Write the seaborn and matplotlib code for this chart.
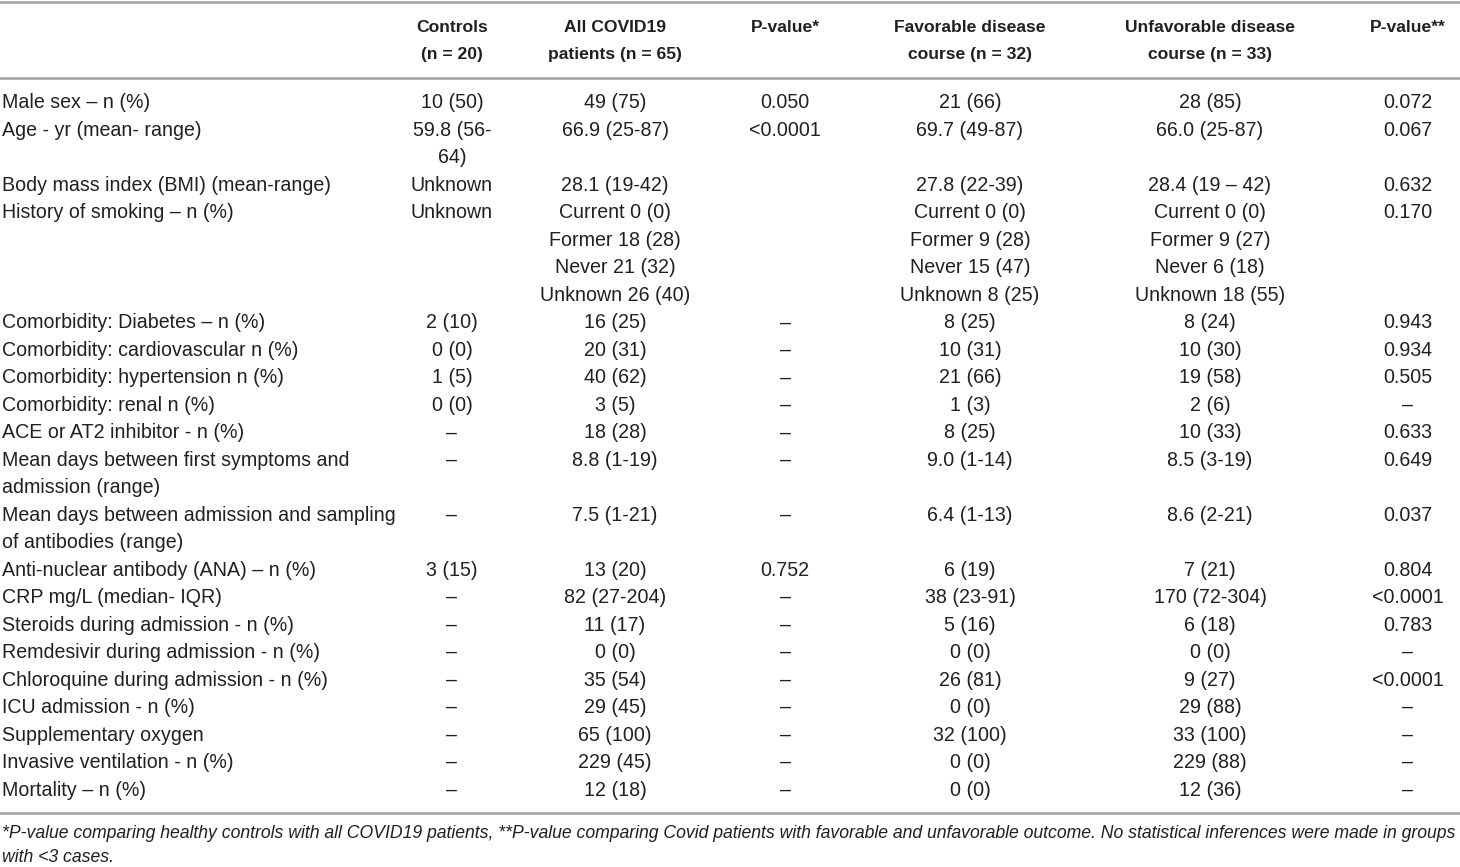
import matplotlib
matplotlib.use("Agg")
import matplotlib.pyplot as plt
import seaborn as sns

sns.set_style("white")
plt.rcParams['font.family'] = ['Liberation Sans Narrow', 'Liberation Sans', 'DejaVu Sans']

# cabeçalhos
headers = ["", "Controls\n(n = 20)", "All COVID19\npatients (n = 65)", "P-value*",
           "Favorable disease\ncourse (n = 32)", "Unfavorable disease\ncourse (n = 33)", "P-value**"]

labels = ["Male sex – n (%)", "Age - yr (mean- range)", "Body mass index (BMI) (mean-range)",
          "History of smoking – n (%)", "Comorbidity: Diabetes – n (%)",
          "Comorbidity: cardiovascular n (%)", "Comorbidity: hypertension n (%)",
          "Comorbidity: renal n (%)", "ACE or AT2 inhibitor - n (%)",
          "Mean days between first symptoms and\nadmission (range)",
          "Mean days between admission and sampling\nof antibodies (range)",
          "Anti-nuclear antibody (ANA) – n (%)", "CRP mg/L (median- IQR)",
          "Steroids during admission - n (%)", "Remdesivir during admission - n (%)",
          "Chloroquine during admission - n (%)", "ICU admission - n (%)",
          "Supplementary oxygen", "Invasive ventilation - n (%)", "Mortality – n (%)"]

controls = ["10 (50)", "59.8 (56-\n64)", "Unknown", "Unknown", "2 (10)", "0 (0)", "1 (5)",
            "0 (0)", "–", "–", "–", "3 (15)", "–", "–", "–", "–", "–", "–", "–", "–"]

all_covid = ["49 (75)", "66.9 (25-87)", "28.1 (19-42)",
             "Current 0 (0)\nFormer 18 (28)\nNever 21 (32)\nUnknown 26 (40)",
             "16 (25)", "20 (31)", "40 (62)", "3 (5)", "18 (28)", "8.8 (1-19)", "7.5 (1-21)",
             "13 (20)", "82 (27-204)", "11 (17)", "0 (0)", "35 (54)", "29 (45)", "65 (100)",
             "229 (45)", "12 (18)"]

p_value1 = ["0.050", "<0.0001", "", "", "–", "–", "–", "–", "–", "–", "–", "0.752",
            "–", "–", "–", "–", "–", "–", "–", "–"]

favorable = ["21 (66)", "69.7 (49-87)", "27.8 (22-39)",
             "Current 0 (0)\nFormer 9 (28)\nNever 15 (47)\nUnknown 8 (25)",
             "8 (25)", "10 (31)", "21 (66)", "1 (3)", "8 (25)", "9.0 (1-14)", "6.4 (1-13)",
             "6 (19)", "38 (23-91)", "5 (16)", "0 (0)", "26 (81)", "0 (0)", "32 (100)",
             "0 (0)", "0 (0)"]

unfavorable = ["28 (85)", "66.0 (25-87)", "28.4 (19 – 42)",
               "Current 0 (0)\nFormer 9 (27)\nNever 6 (18)\nUnknown 18 (55)",
               "8 (24)", "10 (30)", "19 (58)", "2 (6)", "10 (33)", "8.5 (3-19)", "8.6 (2-21)",
               "7 (21)", "170 (72-304)", "6 (18)", "0 (0)", "9 (27)", "29 (88)", "33 (100)",
               "229 (88)", "12 (36)"]

p_value2 = ["0.072", "0.067", "0.632", "0.170", "0.943", "0.934", "0.505", "–", "0.633",
            "0.649", "0.037", "0.804", "<0.0001", "0.783", "–", "<0.0001", "–", "–", "–", "–"]

footnote = ("*P-value comparing healthy controls with all COVID19 patients, **P-value comparing "
            "Covid patients with favorable and unfavorable outcome. No statistical inferences were made in groups\n"
            "with <3 cases.")

columns = [labels, controls, all_covid, p_value1, favorable, unfavorable, p_value2]
col_x = [2, 452, 615, 785, 970, 1210, 1408]
fs = 14.1
line_h = 27.48
y0 = 103

fig, ax = plt.subplots(figsize=(14.6, 8.67), dpi=100)
ax.set_position([0, 0, 1, 1])
ax.set_xlim(0, 1460)
ax.set_ylim(867, 0)
ax.axis("off")

# linhas horizontais
for y in [2, 78, 813]:
    ax.axhline(y, color="#a0a0a0", lw=1.8)

# cabeçalho
for j, h in enumerate(headers):
    for i, txt in enumerate(h.split("\n")):
        ax.text(col_x[j], 27 + i * line_h, txt, ha="center", va="center",
                fontsize=12.6, fontweight="bold", color="#231f20")

# corpo da tabela
k = 0
for r in range(len(labels)):
    n_lines = max(len(col[r].split("\n")) for col in columns)
    for j, col in enumerate(columns):
        for i, txt in enumerate(col[r].split("\n")):
            ax.text(col_x[j], y0 + (k + i) * line_h, txt,
                    ha="left" if j == 0 else "center", va="center",
                    fontsize=fs, color="#231f20")
    k += n_lines

for i, txt in enumerate(footnote.split("\n")):
    ax.text(2, 834 + i * 24, txt, ha="left", va="center", fontsize=12.7,
            fontstyle="italic", color="#231f20")

fig.savefig("out.png", dpi=100)
